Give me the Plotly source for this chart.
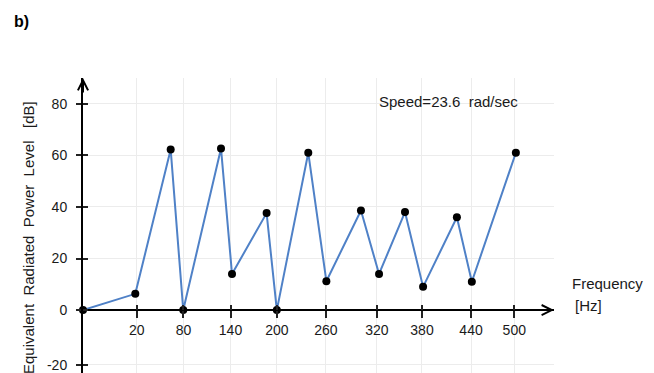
import plotly.graph_objects as go

# ---- data (x on a linear Hz scale as drawn) ----
freq_hz = [-48.5, 18, 63, 79, 127, 141, 185, 198, 238, 261, 305, 328, 361, 384, 427, 446, 502]
power_db = [0, 6.3, 62.3, 0, 62.7, 14, 37.6, 0, 61, 11.2, 38.6, 14, 38, 9, 36, 11, 61]

x_tick_labels = ["20", "80", "140", "200", "260", "320", "380", "440", "500"]
x_tick_pos = [20, 79.3, 139.1, 198.1, 260.5, 325.3, 382.6, 445, 500]
y_tick_labels = ["-20", "0", "20", "40", "60", "80"]
y_tick_pos = [-21.2, 0, 20, 40, 60, 80]

X_RANGE = [-48.5, 550.5]
Y_RANGE = [-24.4, 90]
X_AXIS_POS = (0 - Y_RANGE[0]) / (Y_RANGE[1] - Y_RANGE[0])

FONT = "Liberation Sans, Arial, sans-serif"
TXT = "#1a1a1a"

fig = go.Figure()
fig.add_trace(go.Scatter(
    x=freq_hz, y=power_db, mode="lines+markers",
    line=dict(color="#4f81c7", width=2),
    marker=dict(color="black", size=8),
    cliponaxis=False, showlegend=False, hoverinfo="skip",
))
fig.add_trace(go.Scatter(x=[None], y=[None], xaxis="x2", yaxis="y2",
                         showlegend=False, hoverinfo="skip"))

fig.update_layout(
    width=654, height=373,
    margin=dict(l=83, r=100, t=78, b=0, autoexpand=False),
    paper_bgcolor="white", plot_bgcolor="white",
    font=dict(family=FONT, size=14, color=TXT),
    xaxis=dict(
        range=X_RANGE, anchor="free", position=X_AXIS_POS, automargin=False,
        tickvals=x_tick_pos, ticktext=x_tick_labels,
        ticks="outside", ticklen=7, tickwidth=2, tickcolor="#222",
        showline=True, linecolor="black", linewidth=2,
        showgrid=True, gridcolor="#ececec", gridwidth=1,
        zeroline=False, tickfont=dict(size=14, color=TXT),
    ),
    yaxis=dict(
        range=Y_RANGE, tickvals=y_tick_pos, ticktext=y_tick_labels, automargin=False,
        ticks="outside", ticklen=5, tickwidth=2, tickcolor="#222",
        showline=True, linecolor="black", linewidth=2,
        showgrid=True, gridcolor="#ececec", gridwidth=1,
        zeroline=False, tickfont=dict(size=14, color=TXT),
        ticklabelstandoff=6, ticklabeloverflow="allow",
    ),
    xaxis2=dict(
        range=X_RANGE, overlaying="x", anchor="free", position=X_AXIS_POS, automargin=False,
        tickvals=x_tick_pos, ticks="inside", ticklen=5, tickwidth=2, tickcolor="#222",
        showticklabels=False, showgrid=False, showline=False, zeroline=False,
    ),
    yaxis2=dict(
        range=Y_RANGE, overlaying="y", anchor="x2", side="left", automargin=False,
        tickvals=y_tick_pos, ticks="inside", ticklen=5, tickwidth=2, tickcolor="#222",
        showticklabels=False, showgrid=False, showline=False, zeroline=False,
    ),
)

# arrow heads on the axes
fig.add_annotation(x=X_RANGE[1], y=0, xref="x", yref="y", text="", showarrow=True,
                   ax=-16, ay=0, arrowhead=5, arrowsize=1, arrowwidth=2, arrowcolor="black")
fig.add_annotation(x=X_RANGE[0], y=Y_RANGE[1], xref="x", yref="y", text="", showarrow=True,
                   ax=0, ay=16, arrowhead=5, arrowsize=1, arrowwidth=2, arrowcolor="black")

# texts
fig.add_annotation(x=0.624, y=0.922, xref="paper", yref="paper", xanchor="left", yanchor="middle",
                   text="Speed=23.6\u00a0 rad/sec", showarrow=False, font=dict(size=15, color=TXT))
fig.add_annotation(x=1.034, y=0.302, xref="paper", yref="paper", xanchor="left", yanchor="middle",
                   text="Frequency", showarrow=False, font=dict(size=15, color=TXT))
fig.add_annotation(x=1.040, y=0.2305, xref="paper", yref="paper", xanchor="left", yanchor="middle",
                   text="[Hz]", showarrow=False, font=dict(size=15, color=TXT))
fig.add_annotation(x=-0.1507, y=1.193, xref="paper", yref="paper", xanchor="left", yanchor="middle",
                   text="<b>b)</b>", showarrow=False, font=dict(size=16, color="black"))
fig.add_annotation(x=-0.1168, y=0.461, xref="paper", yref="paper", xanchor="center", yanchor="middle",
                   text="Equivalent\u00a0 Radiated\u00a0 Power\u00a0 Level\u00a0\u00a0 [dB]",
                   textangle=-90, showarrow=False, font=dict(size=15, color=TXT))

fig.write_html("out.html", config={"displayModeBar": False},
               post_script="document.body.style.margin='0';document.body.style.overflow='hidden';")
